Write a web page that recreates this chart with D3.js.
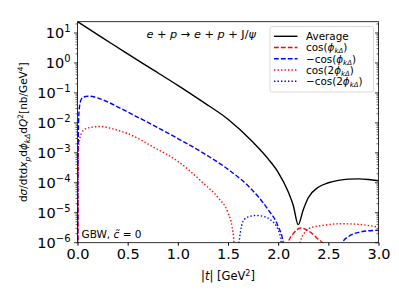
<!DOCTYPE html>
<html><head><meta charset="utf-8">
<script src="https://cdn.jsdelivr.net/npm/d3@7"></script>
<style>body{margin:0;background:#fff} text{font-family:"DejaVu Sans",sans-serif;fill:#000}</style>
</head><body><svg id="c" width="399" height="299"></svg>
<script>
// ---- data (|t| in GeV^2, cross sections in nb/GeV^4); null = break (sign change)
const tAvg   = [0, 0.25, 0.5, 0.75, 1.0, 1.25, 1.5, 1.75, 1.9, 2.0, 2.1, 2.15, 2.2, 2.25, 2.3, 2.4, 2.5, 2.6, 2.7, 2.8, 2.9, 3.0];
const avgVal = [23.8, 6.9, 2.0, 0.60, 0.178, 0.050, 0.0132, 2.24e-3, 6.3e-4, 2.24e-4, 5.0e-5, 1.78e-5, 4.0e-6, 1.26e-5, 3.16e-5, 7.1e-5, 1.0e-4, 1.2e-4, 1.32e-4, 1.35e-4, 1.29e-4, 1.17e-4];

const tCos    = [0, 0.002, 0.004, null, 2.08, 2.1, 2.15, 2.225, 2.3, 2.4, 2.45, 2.47];
const cosVal  = [1e-8, 2e-5, 1e-8, null, 1e-8, 1e-6, 2.0e-6, 3.1e-6, 2.5e-6, 1.3e-6, 9e-7, 1e-8];

const tMCos   = [0, 0.005, 0.01, 0.02, 0.04, 0.08, 0.12, 0.2, 0.3, 0.5, 0.75, 1.0, 1.25, 1.5, 1.7, 1.9, 2.0, 2.05, 2.08, null, 2.6, 2.64, 2.7, 2.8, 2.9, 3.0];
const mCosVal = [1e-8, 1e-4, 1e-2, 3.5e-2, 6.3e-2, 7.6e-2, 7.8e-2, 6.8e-2, 5.0e-2, 2.3e-2, 8.5e-3, 3.0e-3, 1.0e-3, 2.8e-4, 7.9e-5, 1.26e-5, 3.5e-6, 1.0e-6, 1e-8, null, 1e-8, 1e-6, 1.6e-6, 2.2e-6, 2.5e-6, 2.6e-6];

const tCos2   = [0, 0.005, 0.01, 0.04, 0.08, 0.15, 0.225, 0.35, 0.5, 0.75, 1.0, 1.25, 1.4, 1.5, 1.54, 1.56, 1.58, null, 2.19, 2.22, 2.26, 2.33, 2.45, 2.62, 2.8, 3.0];
const cos2Val = [1e-8, 1e-5, 1.6e-3, 4.5e-3, 6.3e-3, 7.2e-3, 7.6e-3, 6.3e-3, 4.4e-3, 1.6e-3, 5.2e-4, 1.0e-4, 3.2e-5, 1.0e-5, 3.5e-6, 1e-6, 1e-8, null, 1e-8, 1e-6, 2.1e-6, 3.2e-6, 3.8e-6, 4.3e-6, 4.1e-6, 3.3e-6];

const tMCos2   = [1.59, 1.61, 1.66, 1.72, 1.77, 1.85, 1.92, 2.0, 2.03, 2.05];
const mCos2Val = [1e-8, 1e-6, 5.9e-6, 7.6e-6, 8.1e-6, 7.6e-6, 5.9e-6, 2.7e-6, 1e-6, 1e-8];

const xTicks = [0, 0.5, 1.0, 1.5, 2.0, 2.5, 3.0];
const xTickLabels = ["0.0", "0.5", "1.0", "1.5", "2.0", "2.5", "3.0"];
const yExps = [1, 0, -1, -2, -3, -4, -5, -6];
const legendLabels = ["Average", "cos(φ_kΔ)", "−cos(φ_kΔ)", "cos(2φ_kΔ)", "−cos(2φ_kΔ)"];

// ---- layout
const L = 77.5, R = 378.5, T = 21.7, B = 242.7;
const x = d3.scaleLinear().domain([0, 3]).range([L, R]);
const y = d3.scaleLog().domain([1e-6, 23.8]).range([B, T]);

const svg = d3.select("#c");
svg.append("defs").append("clipPath").attr("id", "clip")
  .append("rect").attr("x", L).attr("y", T).attr("width", R - L).attr("height", B - T);

const DASH = "4.8,2.1", DOT = "1.4,2.1";
const series = [
  {t: tAvg,   v: avgVal,   color: "#000",    dash: null},
  {t: tCos,   v: cosVal,   color: "#ff0000", dash: DASH},
  {t: tMCos,  v: mCosVal,  color: "#0000ff", dash: DASH},
  {t: tCos2,  v: cos2Val,  color: "#ff0000", dash: DOT},
  {t: tMCos2, v: mCos2Val, color: "#0000ff", dash: DOT},
];

const line = d3.line()
  .defined(d => d[0] !== null && d[1] !== null)
  .x(d => x(d[0])).y(d => y(d[1]))
  .curve(d3.curveMonotoneX);

const g = svg.append("g").attr("clip-path", "url(#clip)");
series.forEach(s => {
  const pts = s.t.map((t, i) => [t, s.v[i]]);
  g.append("path").attr("d", line(pts))
    .attr("fill", "none").attr("stroke", s.color).attr("stroke-width", 1.4)
    .attr("stroke-dasharray", s.dash);
});

// ---- axes frame
svg.append("rect").attr("x", L).attr("y", T).attr("width", R - L).attr("height", B - T)
  .attr("fill", "none").attr("stroke", "#000").attr("stroke-width", 0.8);

// x ticks
const xa = svg.append("g").attr("transform", `translate(0,${B})`)
  .call(d3.axisBottom(x).tickValues(xTicks).tickFormat((d, i) => xTickLabels[i]).tickSize(3).tickPadding(3));
xa.select(".domain").remove();
xa.selectAll("text").attr("font-size", 14.5).attr("font-family", "DejaVu Sans").attr("fill", "#000");

// y ticks (log): major + minor
const yMajor = yExps.map(e => Math.pow(10, e));
const yMinor = [];
for (let e = -6; e <= 1; e++) for (let m = 2; m <= 9; m++) { const v = m * Math.pow(10, e); if (v <= 23.8) yMinor.push(v); }
const ya = svg.append("g");
yMajor.forEach(v => {
  ya.append("line").attr("x1", L - 3.5).attr("x2", L).attr("y1", y(v)).attr("y2", y(v)).attr("stroke", "#000").attr("stroke-width", 0.8);
  ya.append("line").attr("x1", R - 3.5).attr("x2", R).attr("y1", y(v)).attr("y2", y(v)).attr("stroke", "#000").attr("stroke-width", 0.8);
});
yMinor.forEach(v => {
  ya.append("line").attr("x1", L - 2).attr("x2", L).attr("y1", y(v)).attr("y2", y(v)).attr("stroke", "#000").attr("stroke-width", 0.6);
  ya.append("line").attr("x1", R - 2).attr("x2", R).attr("y1", y(v)).attr("y2", y(v)).attr("stroke", "#000").attr("stroke-width", 0.6);
});
yExps.forEach(e => {
  const tx = ya.append("text").attr("x", L - 7).attr("y", y(Math.pow(10, e)) + 5.5)
    .attr("text-anchor", "end").attr("font-size", 14.5);
  tx.append("tspan").text("10");
  tx.append("tspan").attr("font-size", 10).attr("dy", -6.5).text(e < 0 ? "−" + (-e) : String(e));
});

// ---- labels
const xl = svg.append("text").attr("x", (L + R) / 2).attr("y", 280).attr("text-anchor", "middle").attr("font-size", 11.5);
xl.append("tspan").text("|");
xl.append("tspan").attr("font-style", "italic").text("t");
xl.append("tspan").text("| [GeV");
xl.append("tspan").attr("font-size", 8).attr("dy", -4.5).text("2");
xl.append("tspan").attr("dy", 4.5).text("]");

const yl = svg.append("text").attr("transform", `translate(27,${(T + B) / 2}) rotate(-90)`)
  .attr("text-anchor", "middle").attr("font-size", 10.5);
yl.append("tspan").text("d");
yl.append("tspan").attr("font-style", "italic").text("σ");
yl.append("tspan").text("/dtd");
yl.append("tspan").attr("font-style", "italic").text("x");
yl.append("tspan").attr("font-style", "italic").attr("font-size", 7.5).attr("dy", 2.5).text("p");
yl.append("tspan").attr("dy", -2.5).text("d");
yl.append("tspan").attr("font-style", "italic").text("ϕ");
yl.append("tspan").attr("font-style", "italic").attr("font-size", 7.5).attr("dy", 2.5).text("kΔ");
yl.append("tspan").attr("dy", -2.5).text("d");
yl.append("tspan").attr("font-style", "italic").text("Q");
yl.append("tspan").attr("font-size", 7.5).attr("dy", -4).text("2");
yl.append("tspan").attr("dy", 4).text("[nb/GeV");
yl.append("tspan").attr("font-size", 7.5).attr("dy", -4).text("4");
yl.append("tspan").attr("dy", 4).text("]");

const tt = svg.append("text").attr("x", 146.5).attr("y", 37.5).attr("font-size", 11.3);
tt.append("tspan").attr("font-style", "italic").text("e");
tt.append("tspan").text(" + ");
tt.append("tspan").attr("font-style", "italic").text("p");
tt.append("tspan").text(" → ");
tt.append("tspan").attr("font-style", "italic").text("e");
tt.append("tspan").text(" + ");
tt.append("tspan").attr("font-style", "italic").text("p");
tt.append("tspan").text(" + J/");
tt.append("tspan").attr("font-style", "italic").text("ψ");

const an = svg.append("text").attr("x", 81.5).attr("y", 237.5).attr("font-size", 10.5);
an.append("tspan").text("GBW, ");
an.append("tspan").attr("font-style", "italic").text("c\u0303");
an.append("tspan").text(" = 0");

// ---- legend
const lg = svg.append("g");
lg.append("rect").attr("x", 270).attr("y", 26.5).attr("width", 103.5).attr("height", 65.5).attr("rx", 2)
  .attr("fill", "#fff").attr("fill-opacity", 0.8).attr("stroke", "#d0d0d0").attr("stroke-width", 0.8);
legendLabels.forEach((lab, i) => {
  const yy = 36.3 + i * 11.25;
  const s = series[i];
  lg.append("line").attr("x1", 274).attr("x2", 297.5).attr("y1", yy).attr("y2", yy)
    .attr("stroke", s.color).attr("stroke-width", 1.4).attr("stroke-dasharray", s.dash);
  const tx = lg.append("text").attr("x", 306).attr("y", yy + 3.7).attr("font-size", 10.4);
  if (i === 0) { tx.text(lab); return; }
  const pre = lab.split("φ")[0], post = lab.split("_kΔ")[1];
  tx.append("tspan").text(pre);
  tx.append("tspan").attr("font-style", "italic").text("ϕ");
  tx.append("tspan").attr("font-style", "italic").attr("font-size", 7).attr("dy", 2).text("kΔ");
  tx.append("tspan").attr("dy", -2).text(post);
});
</script></body></html>
